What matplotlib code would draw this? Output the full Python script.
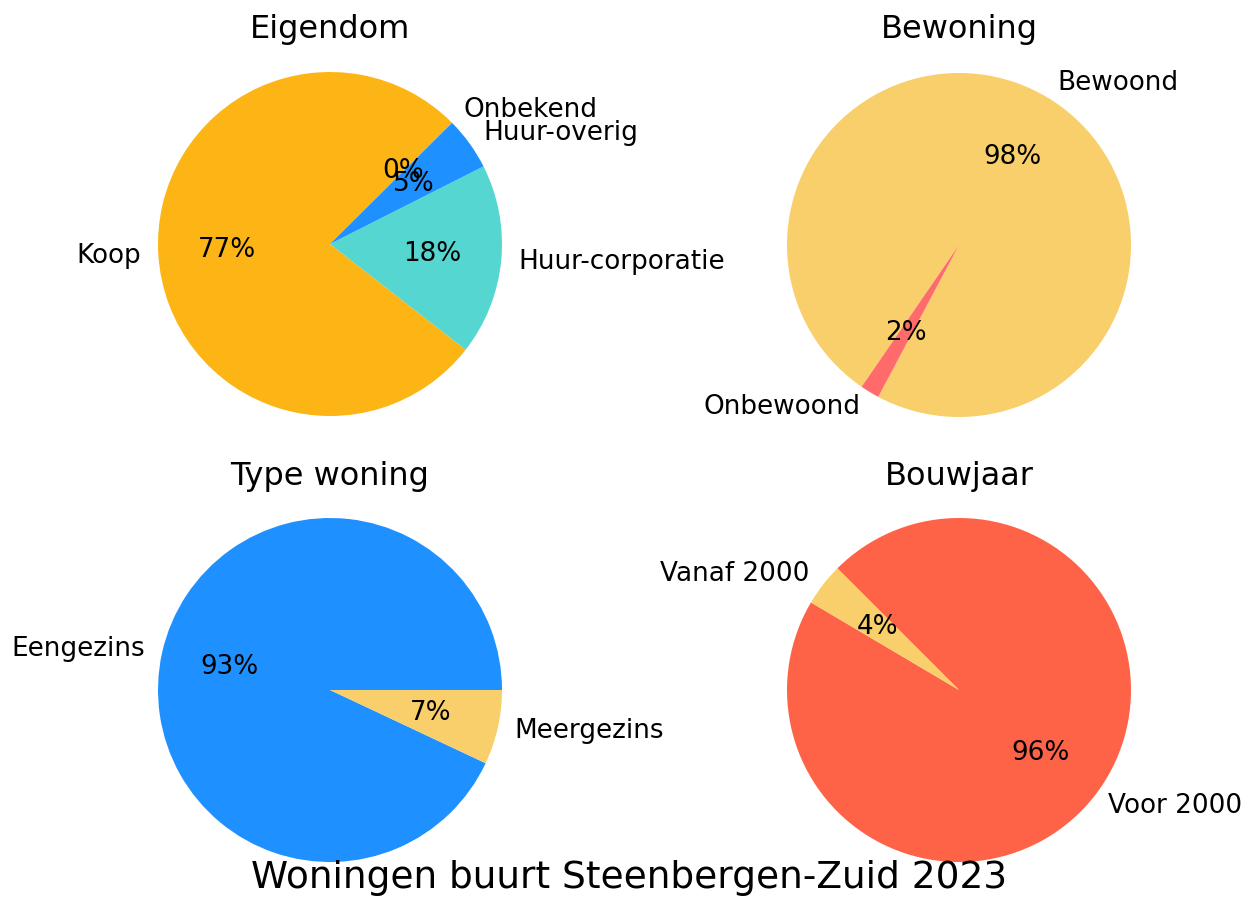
import matplotlib
matplotlib.use("Agg")
import matplotlib.pyplot as plt

# Data
eig_labels = ["Koop", "Huur-corporatie", "Huur-overig", "Onbekend"]
eig_values = [77.0, 18.0, 5.0, 0.05]
eig_colors = ["#FDB515", "#55D6D0", "#1E90FF", "#9E9E9E"]

bew_labels = ["Bewoond", "Onbewoond"]
bew_values = [98.2, 1.8]
bew_colors = ["#F9CF6B", "#FF6B6B"]

type_labels = ["Eengezins", "Meergezins"]
type_values = [93.0, 7.0]
type_colors = ["#1E90FF", "#F9CF6B"]

bouw_labels = ["Voor 2000", "Vanaf 2000"]
bouw_values = [96.0, 4.0]
bouw_colors = ["#FF6347", "#F9CF6B"]

W, H = 1258, 899
fig = plt.figure(figsize=(W / 100, H / 100), dpi=100)

R = 172
half = 1.25 * R

def make_ax(cx, cy):
    # cx, cy in pixels from top-left
    left = (cx - half) / W
    bottom = (H - cy - half) / H
    return fig.add_axes([left, bottom, 2 * half / W, 2 * half / H])

specs = [
    (330, 244, "Eigendom", eig_values, eig_labels, eig_colors, 45, 38),
    (959, 245, "Bewoning", bew_values, bew_labels, bew_colors, 242, 38),
    (330, 690, "Type woning", type_values, type_labels, type_colors, 0, 485),
    (959, 690, "Bouwjaar", bouw_values, bouw_labels, bouw_colors, 149.4, 485),
]

for cx, cy, title, vals, labs, cols, start, tbase in specs:
    ax = make_ax(cx, cy)
    ax.pie(vals, labels=labs, colors=cols, autopct="%1.0f%%", startangle=start,
           textprops={"fontsize": 18.9})
    ax.set_xlim(-1.25, 1.25)
    ax.set_ylim(-1.25, 1.25)
    ax.set_aspect("equal")
    ty = ((cy + half) - tbase) / (2 * half)
    ax.set_title(title, fontsize=23, y=ty, pad=0)

fig.text(0.5, (H - 878) / H, "Woningen buurt Steenbergen-Zuid 2023",
         ha="center", va="center", fontsize=27)

fig.savefig("out.png", dpi=100)
